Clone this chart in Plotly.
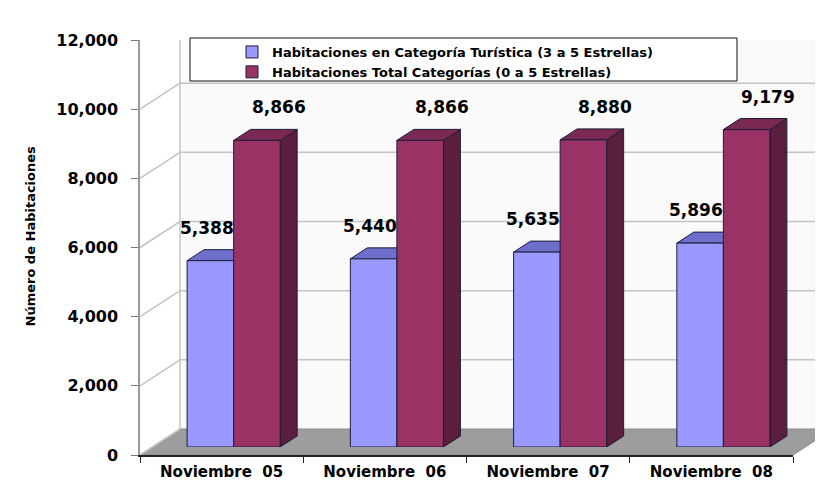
import plotly.graph_objects as go

# ---------------- data ----------------
categories = ["Noviembre 05", "Noviembre 06", "Noviembre 07", "Noviembre 08"]
tick_labels = ["Noviembre\u00a0\u00a005", "Noviembre\u00a0\u00a006", "Noviembre\u00a0\u00a007", "Noviembre\u00a0\u00a008"]
turistica = [5388, 5440, 5635, 5896]
total = [8866, 8866, 8880, 9179]
series_names = ["Habitaciones en Categoría Turística (3 a 5 Estrellas)",
                "Habitaciones Total Categorías (0 a 5 Estrellas)"]
y_ticks = [0, 2000, 4000, 6000, 8000, 10000, 12000]
y_title = "Número de Habitaciones"

# ---------------- geometry / style ----------------
W, H = 823, 491
OFF = 8                      # page body margin
FW, FH = W - OFF, H - OFF    # figure size
FONT = "DejaVu Sans"

def fx(p):
    return (p - OFF) / FW

def fy(p):
    return 1 - (p - OFF) / FH

YMAX = 12000
axis_left, axis_right = 140, 793
axis_bottom, axis_top = 455, 40
bar_left, bar_right = 152, 805
bar_bottom, bar_top = 447, 32
back_dx, back_dy = 40, 26
face_dx, face_dy = 17, 11

bargap = 0.43
bw = (1 - bargap) / 2
cat_px = (bar_right - bar_left) / len(categories)
ddx = face_dx / cat_px
ddy = face_dy * YMAX / (bar_bottom - bar_top)
span_px = axis_bottom - axis_top

blue_front, blue_top = "#9999FF", "#6E6ECC"
mar_front, mar_top, mar_side = "#993366", "#7A2952", "#5C1E3D"
edge = "#1c1c3a"
grid_col = "#c4c4c4"

fig = go.Figure()

fig.add_trace(go.Bar(x=categories, y=turistica, name=series_names[0],
                     marker=dict(color=blue_front, line=dict(color=edge, width=1)),
                     xaxis="x", yaxis="y", hoverinfo="skip"))
fig.add_trace(go.Bar(x=categories, y=total, name=series_names[1],
                     marker=dict(color=mar_front, line=dict(color=edge, width=1)),
                     xaxis="x", yaxis="y", hoverinfo="skip"))
fig.add_trace(go.Scatter(x=tick_labels, y=[None] * len(tick_labels), xaxis="x2", yaxis="y2",
                         showlegend=False, hoverinfo="skip", mode="markers"))

shapes = []
# faint back wall tint
shapes.append(dict(type="path", xref="paper", yref="y2", ysizemode="pixel", yanchor=0,
                   path=f"M{fx(axis_left + back_dx)},{back_dy} L{fx(W)},{back_dy} "
                        f"L{fx(W)},{back_dy + span_px} L{fx(axis_left + back_dx)},{back_dy + span_px} Z",
                   fillcolor="#fafafa", line=dict(width=0), layer="below"))
shapes.append(dict(type="path", xref="paper", yref="y2", ysizemode="pixel", yanchor=0,
                   path=f"M{fx(axis_left)},0 L{fx(axis_left + back_dx)},{back_dy} "
                        f"L{fx(axis_right + back_dx)},{back_dy} L{fx(axis_right)},0 Z",
                   fillcolor="#9d9d9d", line=dict(color="#8a8a8a", width=1), layer="below"))
for t in y_ticks:
    if t > 0:
        shapes.append(dict(type="line", xref="paper", yref="y2", ysizemode="pixel", yanchor=t,
                           x0=fx(axis_left + back_dx), x1=fx(W), y0=back_dy, y1=back_dy,
                           line=dict(color=grid_col, width=1.5), layer="below"))
    shapes.append(dict(type="line", xref="paper", yref="y2", ysizemode="pixel", yanchor=t,
                       x0=fx(axis_left), x1=fx(axis_left + back_dx), y0=0, y1=back_dy,
                       line=dict(color=grid_col, width=1.5), layer="below"))
shapes.append(dict(type="line", xref="paper", yref="y2", ysizemode="pixel", yanchor=0,
                   x0=fx(axis_left + back_dx), x1=fx(axis_left + back_dx),
                   y0=back_dy, y1=back_dy + span_px,
                   line=dict(color=grid_col, width=1.5), layer="below"))
shapes.append(dict(type="rect", xref="paper", yref="paper",
                   x0=fx(190), x1=fx(737), y0=fy(81), y1=fy(38),
                   fillcolor="white", line=dict(color="#111111", width=1), layer="below"))

for i, (b, m) in enumerate(zip(turistica, total)):
    shapes.append(dict(type="path", xref="x", yref="y", layer="below",
                       path=f"M{i - bw},{b} L{i},{b} L{i + ddx},{b + ddy} L{i - bw + ddx},{b + ddy} Z",
                       fillcolor=blue_top, line=dict(color=edge, width=1)))
    shapes.append(dict(type="path", xref="x", yref="y", layer="below",
                       path=f"M{i + bw},0 L{i + bw + ddx},{ddy} L{i + bw + ddx},{m + ddy} L{i + bw},{m} Z",
                       fillcolor=mar_side, line=dict(color=edge, width=1)))
    shapes.append(dict(type="path", xref="x", yref="y", layer="below",
                       path=f"M{i},{m} L{i + bw},{m} L{i + bw + ddx},{m + ddy} L{i + ddx},{m + ddy} Z",
                       fillcolor=mar_top, line=dict(color=edge, width=1)))

annotations = []
for c, b, m in zip(categories, turistica, total):
    annotations.append(dict(x=c, y=b, xref="x", yref="y", text=f"{b:,}", showarrow=False,
                            xshift=-27, yshift=33,
                            font=dict(family=FONT, size=17, color="black", weight="bold")))
    annotations.append(dict(x=c, y=m, xref="x", yref="y", text=f"{m:,}", showarrow=False,
                            xshift=45, yshift=33,
                            font=dict(family=FONT, size=17, color="black", weight="bold")))
annotations.append(dict(x=fx(20), y=fy(236), xref="paper", yref="paper", text=y_title,
                        textangle=-90, showarrow=False,
                        font=dict(family=FONT, size=13, color="black", weight="bold")))

fig.update_layout(
    width=FW, height=FH,
    margin=dict(l=0, r=0, t=0, b=0),
    paper_bgcolor="white", plot_bgcolor="rgba(0,0,0,0)",
    barmode="group", bargap=bargap, bargroupgap=0,
    showlegend=True,
    legend=dict(x=fx(232), y=fy(37), xanchor="left", yanchor="top",
                bgcolor="rgba(0,0,0,0)", borderwidth=0, traceorder="normal",
                font=dict(family=FONT, size=13, color="black", weight="bold"),
                tracegroupgap=0),
    xaxis=dict(domain=[fx(bar_left), fx(bar_right)], anchor="y", range=[-0.5, len(categories) - 0.5],
               visible=False, automargin=False, fixedrange=True),
    yaxis=dict(domain=[fy(bar_bottom), fy(bar_top)], anchor="x", range=[0, YMAX],
               visible=False, automargin=False, fixedrange=True),
    xaxis2=dict(domain=[fx(axis_left), fx(axis_right)], anchor="y2", range=[-0.5, len(categories) - 0.5],
                type="category", categoryorder="array", categoryarray=tick_labels,
                showline=True, linecolor="#222222", linewidth=1.5,
                ticks="outside", ticklen=6, tickcolor="#222222", tickson="boundaries",
                showgrid=False, zeroline=False, ticklabelstandoff=2,
                tickfont=dict(family=FONT, size=15, color="black", weight="bold"),
                automargin=False, fixedrange=True),
    yaxis2=dict(domain=[fy(axis_bottom), fy(axis_top)], anchor="x2", range=[0, YMAX],
                tickvals=y_ticks, tickformat=",d",
                showline=True, linecolor="#9a9a9a", linewidth=1.5,
                ticks="outside", ticklen=7, tickcolor="#777777",
                showgrid=False, zeroline=False, ticklabelstandoff=10,
                tickfont=dict(family=FONT, size=16, color="black", weight="bold"),
                automargin=False, fixedrange=True),
    shapes=shapes,
    annotations=annotations,
)

fig.write_html("out.html")
